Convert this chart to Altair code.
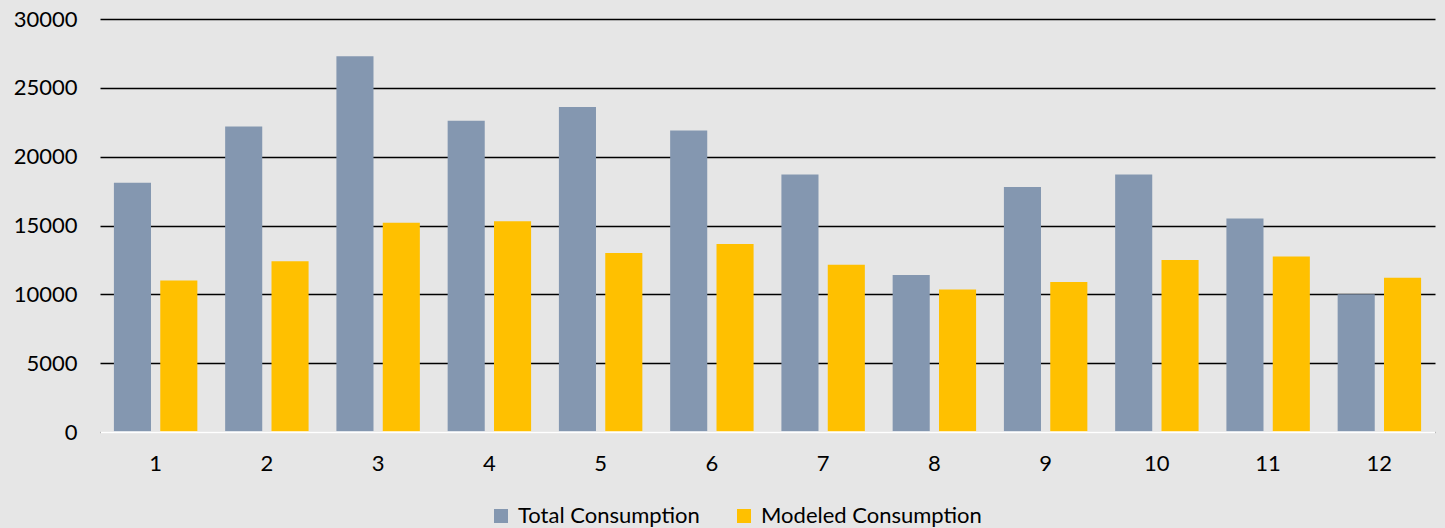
import altair as alt
import pandas as pd

# Monthly consumption: measured total vs. modeled
months = [1, 2, 3, 4, 5, 6, 7, 8, 9, 10, 11, 12]
total_consumption = [18100, 22200, 27300, 22600, 23600, 21900, 18700, 11400, 17800, 18700, 15500, 10000]
modeled_consumption = [11000, 12400, 15200, 15300, 13000, 13650, 12150, 10350, 10900, 12500, 12750, 11200]
series_names = ["Total Consumption", "Modeled Consumption"]
series_colors = ["#8497B0", "#FFC000"]
y_ticks = [0, 5000, 10000, 15000, 20000, 25000, 30000]

rows = []
for m, t, mo in zip(months, total_consumption, modeled_consumption):
    rows.append({"month": m, "series": series_names[0], "value": t})
    rows.append({"month": m, "series": series_names[1], "value": mo})
df = pd.DataFrame(rows)

FONT = "Lato"
FS = 22

chart = (
    alt.Chart(df)
    .mark_bar()
    .encode(
        x=alt.X(
            "month:O",
            title=None,
            scale=alt.Scale(paddingInner=0.25, paddingOuter=0.125),
            axis=alt.Axis(
                labelAngle=0,
                ticks=False,
                domainColor="white",
                domainWidth=2.5,
                labelPadding=21,
                zindex=1,
            ),
        ),
        xOffset=alt.XOffset(
            "series:N",
            sort=series_names,
            scale=alt.Scale(paddingInner=0.2, paddingOuter=0),
        ),
        y=alt.Y(
            "value:Q",
            title=None,
            scale=alt.Scale(domain=[0, 30000], nice=False),
            axis=alt.Axis(
                values=y_ticks,
                format="d",
                ticks=False,
                domain=False,
                grid=True,
                gridColor="black",
                gridWidth=1.4,
                labelPadding=23,
            ),
        ),
        color=alt.Color(
            "series:N",
            sort=series_names,
            scale=alt.Scale(domain=series_names, range=series_colors),
            legend=alt.Legend(
                title=None,
                orient="none",
                direction="horizontal",
                legendX=390,
                legendY=486,
                symbolType="square",
                symbolSize=196,
                symbolStrokeWidth=0,
                symbolOpacity=1,
                labelOffset=6,
                labelLimit=0,
                columnPadding=33,
                padding=0,
                offset=0,
            ),
        ),
    )
    .properties(
        width=1335,
        height=413,
        background="#E6E6E6",
        autosize=alt.AutoSizeParams(type="none"),
        padding={"left": 100, "top": 19, "right": 10, "bottom": 96},
    )
    .configure_view(stroke=None, fill="#E6E6E6")
    .configure_axis(labelFont=FONT, labelFontSize=FS, labelColor="black")
    .configure_legend(labelFont=FONT, labelFontSize=FS, labelColor="black")
)

chart.save("out.html", embed_options={"renderer": "svg", "actions": False})
